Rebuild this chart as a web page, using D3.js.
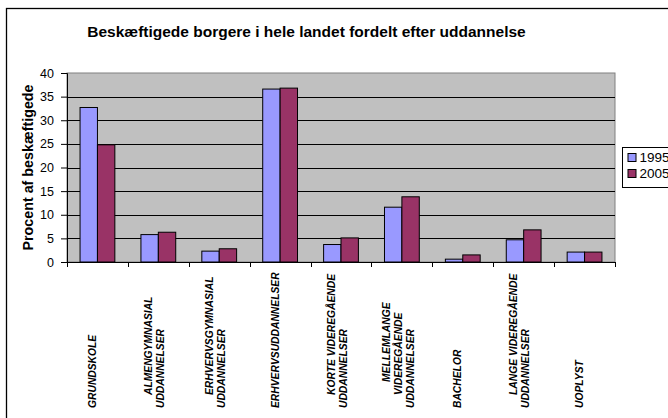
<!DOCTYPE html>
<html>
<head>
<meta charset="utf-8">
<script src="https://cdn.jsdelivr.net/npm/d3@7"></script>
<style>
  body { margin: 0; background: #fff; }
  svg { display: block; font-family: "Liberation Sans", Arial, sans-serif; }
</style>
</head>
<body>
<div id="chart"></div>
<script>
// data
const categories = [
  'GRUNDSKOLE',
  'ALMENGYMNASIAL\nUDDANNELSER',
  'ERHVERVSGYMNASIAL\nUDDANNELSER',
  'ERHVERVSUDDANNELSER',
  'KORTE VIDEREGÅENDE\nUDDANNELSER',
  'MELLEMLANGE\nVIDEREGÅENDE\nUDDANNELSER',
  'BACHELOR',
  'LANGE VIDEREGÅENDE\nUDDANNELSER',
  'UOPLYST'
];
const seriesNames = ['1995', '2005'];
const values1995 = [32.7, 5.8, 2.3, 36.6, 3.7, 11.6, 0.6, 4.7, 2.1];
const values2005 = [24.8, 6.3, 2.8, 36.8, 5.1, 13.8, 1.5, 6.8, 2.1];
const yTicks = [0, 5, 10, 15, 20, 25, 30, 35, 40];
const colors = ['#9999ff', '#993366'];

const width = 668, height = 418;
const plot = { left: 67, top: 73, right: 615, bottom: 262 };

const svg = d3.select('#chart')
  .append('svg')
  .attr('width', width)
  .attr('height', height);

// chart border (runs off the page on right and bottom)
svg.append('rect')
  .attr('x', 6.5).attr('y', 8.5)
  .attr('width', 720).attr('height', 450)
  .attr('fill', '#fff')
  .attr('stroke', '#000')
  .attr('stroke-width', 1.3);

// title
svg.append('text')
  .attr('x', 306.5)
  .attr('y', 37)
  .attr('text-anchor', 'middle')
  .style('font-size', '15.5px')
  .style('font-weight', 'bold')
  .text('Beskæftigede borgere i hele landet fordelt efter uddannelse');

// scales
const x = d3.scaleBand()
  .domain(categories)
  .range([plot.left, plot.right]);

const bw = x.bandwidth();
const xInner = d3.scaleBand()
  .domain(seriesNames)
  .range([bw * 0.75 / 3.5, bw * 2.75 / 3.5]);

const y = d3.scaleLinear()
  .domain([0, 40])
  .range([plot.bottom, plot.top]);

// plot area
svg.append('rect')
  .attr('x', plot.left)
  .attr('y', plot.top)
  .attr('width', plot.right - plot.left)
  .attr('height', plot.bottom - plot.top)
  .attr('fill', '#c0c0c0')
  .attr('stroke', '#808080')
  .attr('stroke-width', 1);

// gridlines
svg.append('g')
  .selectAll('line')
  .data(yTicks.filter(d => d > 0 && d < 40))
  .join('line')
  .attr('x1', plot.left)
  .attr('x2', plot.right)
  .attr('y1', d => Math.round(y(d)) + 0.5)
  .attr('y2', d => Math.round(y(d)) + 0.5)
  .attr('stroke', '#000')
  .attr('stroke-width', 1);

// bars
const series = [values1995, values2005];
const groups = svg.append('g')
  .selectAll('g')
  .data(seriesNames)
  .join('g')
  .attr('fill', (d, i) => colors[i]);

groups.selectAll('rect')
  .data((s, i) => categories.map((c, j) => ({ cat: c, name: s, v: series[i][j] })))
  .join('rect')
  .attr('x', d => x(d.cat) + xInner(d.name))
  .attr('y', d => y(d.v))
  .attr('width', xInner.bandwidth())
  .attr('height', d => y(0) - y(d.v))
  .attr('stroke', '#000')
  .attr('stroke-width', 1);

// y axis
const yAxis = svg.append('g')
  .attr('transform', 'translate(' + plot.left + ',0)')
  .call(d3.axisLeft(y).tickValues(yTicks).tickSize(6).tickPadding(7).tickFormat(d3.format('d')));
yAxis.select('.domain').attr('stroke', '#000');
yAxis.selectAll('.tick line').attr('stroke', '#000');
yAxis.selectAll('.tick text')
  .style('font-size', '12.5px')
  .style('font-family', '"Liberation Sans", Arial, sans-serif')
  .attr('fill', '#000');

// x axis (ticks at band boundaries)
const xAxisG = svg.append('g');
xAxisG.append('line')
  .attr('x1', plot.left).attr('x2', plot.right)
  .attr('y1', plot.bottom + 0.5).attr('y2', plot.bottom + 0.5)
  .attr('stroke', '#000');
const boundaries = categories.map(c => x(c)).concat([plot.right]);
xAxisG.selectAll('line.tick')
  .data(boundaries)
  .join('line')
  .attr('class', 'tick')
  .attr('x1', d => Math.round(d) + 0.5)
  .attr('x2', d => Math.round(d) + 0.5)
  .attr('y1', plot.bottom)
  .attr('y2', plot.bottom + 5)
  .attr('stroke', '#000');

// x labels, rotated
const labelBottom = 408;
categories.forEach(c => {
  const lines = c.split('\n');
  const n = lines.length;
  const cx = x(c) + bw / 2;
  lines.forEach((line, k) => {
    const back = n - 1 - k;
    const gx = cx - 5 + 7 * (n - 1) - 12 * back + 3.5;
    const gy = labelBottom - 13 * back;
    svg.append('text')
      .attr('transform', 'translate(' + gx + ',' + gy + ') rotate(-90)')
      .attr('text-anchor', 'start')
      .style('font-size', '10.3px')
      .style('font-weight', 'bold')
      .style('font-style', 'italic')
      .text(line);
  });
});

// y axis title
svg.append('text')
  .attr('transform', 'translate(33,167.5) rotate(-90)')
  .attr('text-anchor', 'middle')
  .style('font-size', '14.3px')
  .style('font-weight', 'bold')
  .text('Procent af beskæftigede');

// legend
const legend = svg.append('g')
  .attr('transform', 'translate(622.5,147.5)');
legend.append('rect')
  .attr('width', 80).attr('height', 40)
  .attr('fill', '#fff')
  .attr('stroke', '#000');
seriesNames.forEach((s, i) => {
  legend.append('rect')
    .attr('x', 5.5).attr('y', 6 + i * 16)
    .attr('width', 8).attr('height', 8)
    .attr('fill', colors[i])
    .attr('stroke', '#000');
  legend.append('text')
    .attr('x', 17).attr('y', 14.5 + i * 16)
    .style('font-size', '13.5px')
    .text(s);
});
</script>
</body>
</html>
